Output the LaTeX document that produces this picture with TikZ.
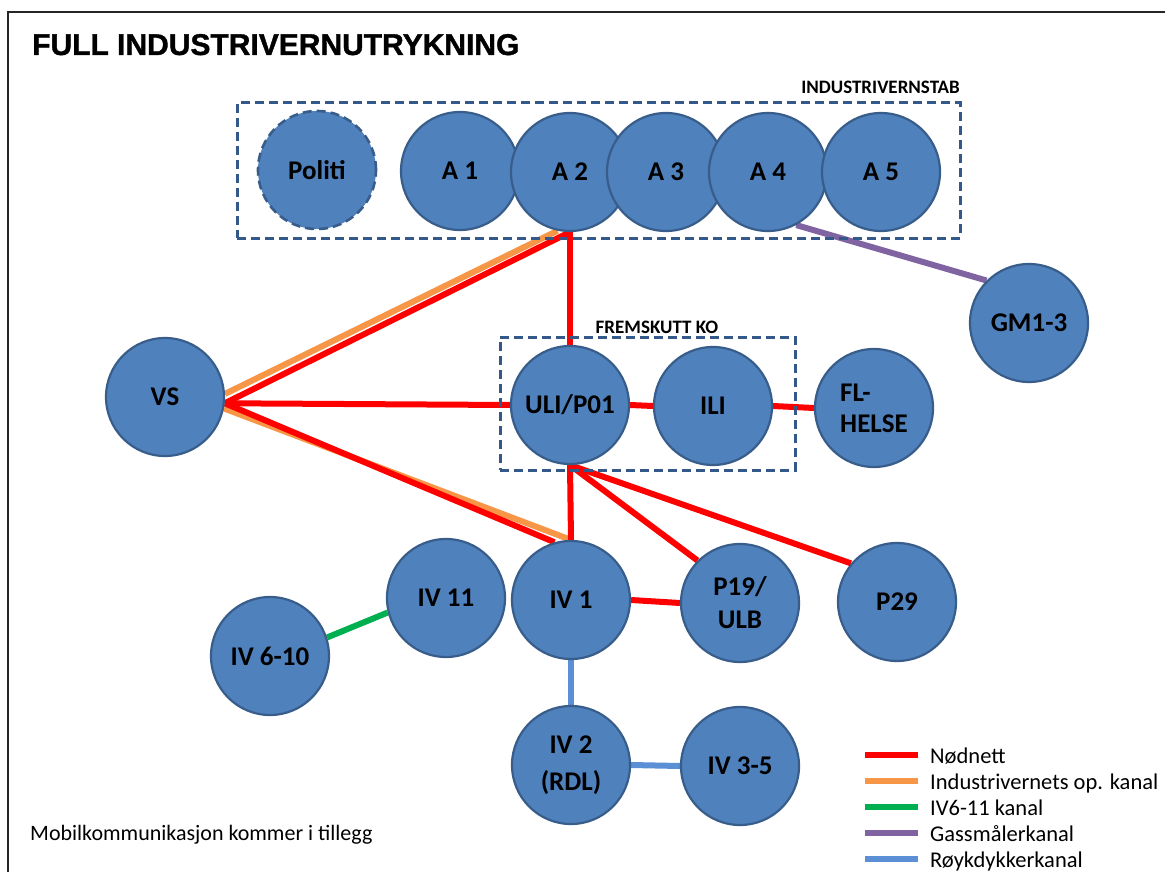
\documentclass[tikz,border=0pt]{standalone}
\usepackage{fontspec}
\setmainfont{Carlito}
\newfontfamily\headfont{Liberation Sans}[BoldFeatures={FakeBold=1.2}]
\usetikzlibrary{backgrounds}

\definecolor{unitfill}{HTML}{4F81BD}
\definecolor{unitedge}{HTML}{385D8A}
\definecolor{grpedge}{HTML}{35588A}
\definecolor{cnred}{HTML}{FF0000}
\definecolor{cnorange}{HTML}{F79646}
\definecolor{cngreen}{HTML}{00B050}
\definecolor{cnpurple}{HTML}{8064A2}
\definecolor{cnblue}{HTML}{5B8FD6}

\tikzset{
  unit/.style={circle, draw=unitedge, line width=2.2pt, fill=unitfill,
    minimum size=118pt, inner sep=0pt, align=center,
    font=\fontsize{27}{33}\selectfont\bfseries},
  grpbox/.style={draw=grpedge, line width=3pt, dash pattern=on 9pt off 5pt,
    rectangle, inner sep=0pt},
  grplabel/.style={font=\fontsize{19}{22}\selectfont\bfseries, inner sep=0pt},
  nodnett/.style={draw=cnred, line width=6pt},
  opkanal/.style={draw=cnorange, line width=6pt},
  ivkanal/.style={draw=cngreen, line width=6pt},
  gasskanal/.style={draw=cnpurple, line width=6pt},
  royk/.style={draw=cnblue, line width=6pt},
  legtext/.style={anchor=base west, inner sep=0pt, font=\fontsize{22.5}{26}\selectfont},
}

\begin{document}
\begin{tikzpicture}[x=1pt,y=-1pt]
\useasboundingbox (0,0) rectangle (1165,872);

% outer frame
\draw[line width=2pt, draw=black!85] (8,880) -- (8,12) -- (1175,12);

% title
\node[anchor=base west, inner sep=0pt, font=\headfont\fontsize{30}{34}\selectfont\bfseries]
  (title) at (32,55) {FULL INDUSTRIVERNUTRYKNING};

% industrivernstab
\node[grpbox, minimum width=723pt, minimum height=135pt] (stab) at (598.5,170.5) {};
\node[grplabel, anchor=base east] (stablbl) at (960,94) {INDUSTRIVERNSTAB};
\node[unit, dash pattern=on 9pt off 5pt, line width=2.6pt] (politi) at (317,170) {Politi};
\node[unit] (a1) at (460,171) {A 1};
\node[unit] (a2) at (570,172) {A 2};
\node[unit] (a3) at (666,172) {A 3};
\node[unit] (a4) at (768,172) {A 4};
\node[unit] (a5) at (881,172) {A 5};

% fremskutt KO
\node[grpbox, minimum width=295pt, minimum height=133pt] (ko) at (647.5,403.5) {};
\node[grplabel, anchor=base] (kolbl) at (657,333) {FREMSKUTT KO};
\node[unit] (uli) at (570,405) {ULI/P01};
\node[unit] (ili) at (713,406) {ILI};

% other units
\node[unit] (gm) at (1029,323) {GM1-3};
\node[unit] (vs) at (165,397) {VS};
\node[unit, align=left, font=\fontsize{27}{31}\selectfont\bfseries] (fl) at (874,408) {FL-\\HELSE};
\node[unit] (iv1) at (571,600) {IV 1};
\node[unit] (iv11) at (446,598) {IV 11};
\node[unit] (iv610) at (270,656) {IV 6-10};
\node[unit, font=\fontsize{27}{33}\selectfont\bfseries] (p19) at (740,603) {P19/\\ULB};
\node[unit] (p29) at (897,602) {P29};
\node[unit, font=\fontsize{27}{37}\selectfont\bfseries] (iv2) at (571,765) {IV 2\\(RDL)};
\node[unit] (iv35) at (740,766) {IV 3-5};

% connectors, kept beneath the units
\begin{scope}[on background layer]
  \draw[opkanal] (vs.3) -- (a2.-102);
  \draw[opkanal] (vs.-11) -- (iv1.north);
  \draw[nodnett] (vs.-6) -- (a2.south);
  \draw[nodnett] (vs.-6) -- (uli.west);
  \draw[nodnett] (vs.-6) -- (iv1.106);
  \draw[nodnett] (a2.south) -- (uli.north);
  \draw[nodnett] (uli.east) -- (ili.west);
  \draw[nodnett] (ili.east) -- (fl.west);
  \draw[nodnett] (uli.south) -- (iv1.north);
  \draw[nodnett] (uli.south) -- (p19.135);
  \draw[nodnett] (uli.south) -- (p29.140);
  \draw[nodnett] (iv1.east) -- (p19.west);
  \draw[ivkanal] (iv11.194) -- (iv610.18);
  \draw[gasskanal] (a4.-62) -- (gm.135);
  \draw[royk] (iv1.south) -- (iv2.north);
  \draw[royk] (iv2.east) -- (iv35.west);
\end{scope}

% legend
\draw[nodnett]   (865,755) -- (918,755);
\draw[opkanal]   (865,781) -- (918,781);
\draw[ivkanal]   (865,807) -- (918,807);
\draw[gasskanal] (865,833) -- (918,833);
\draw[royk]      (865,859) -- (918,859);
\node[legtext] (lg1) at (930,763) {Nødnett};
\node[legtext] (lg2) at (930,789) {Industrivernets op. kanal};
\node[legtext] (lg3) at (930,815) {IV6-11 kanal};
\node[legtext] (lg4) at (930,841) {Gassmålerkanal};
\node[legtext] (lg5) at (930,867) {Røykdykkerkanal};

% note
\node[anchor=base west, inner sep=0pt, font=\fontsize{22}{26}\selectfont]
  (note) at (30,840) {Mobilkommunikasjon kommer i tillegg};
\end{tikzpicture}
\end{document}
